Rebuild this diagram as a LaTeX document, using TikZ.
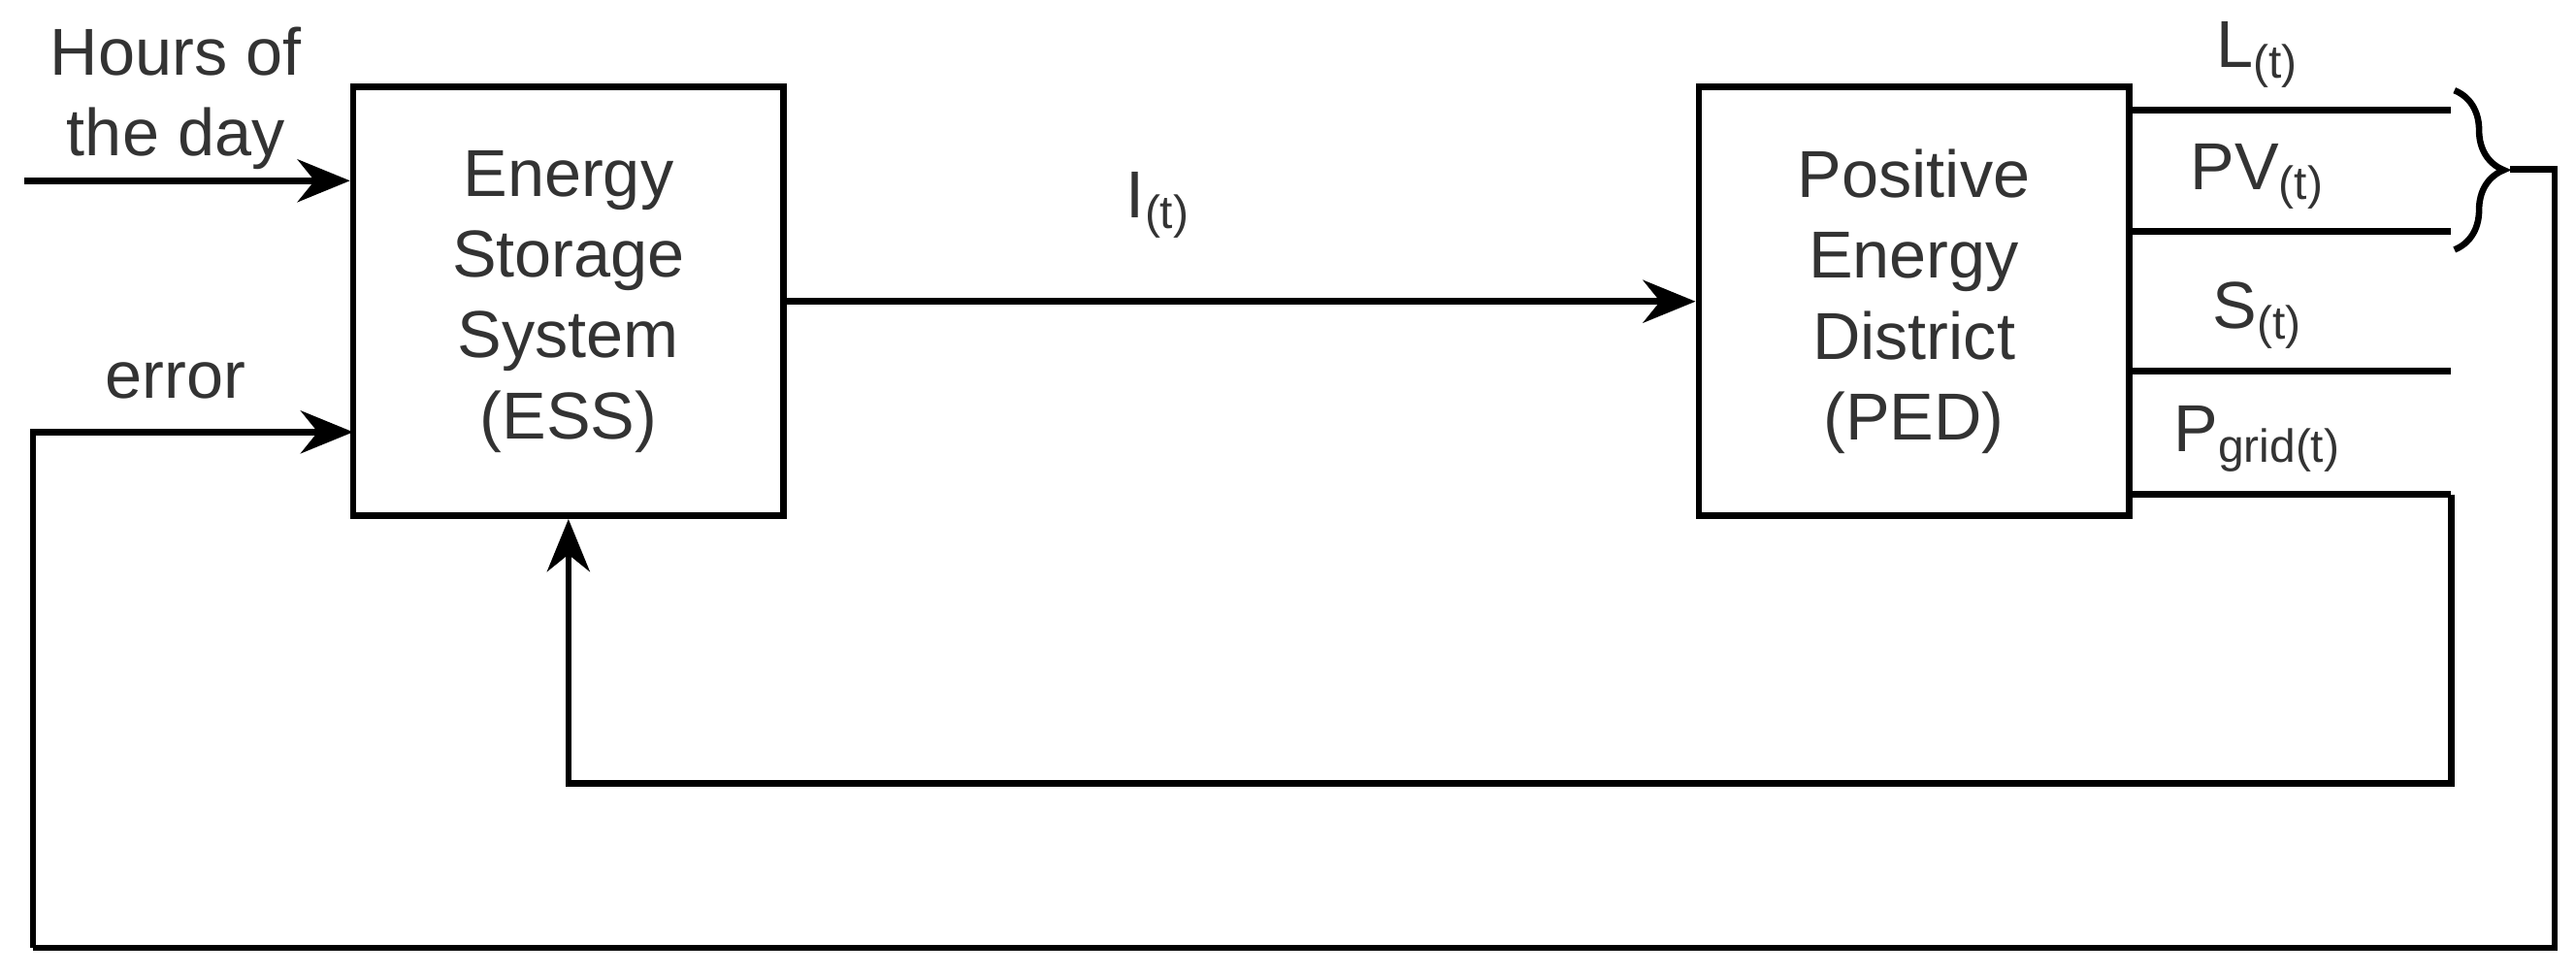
\documentclass[tikz,border=0pt]{standalone}
\usepackage{fontspec}
\setmainfont{Liberation Sans}
\usetikzlibrary{arrows.meta,decorations.pathreplacing}
\begin{document}
\begin{tikzpicture}[x=0.1mm,y=-0.1mm,
  box/.style={draw,line width=1.1pt,minimum width=26.2mm,minimum height=26.1mm,align=center,font=\fontsize{11.5}{14}\selectfont,inner sep=0pt,text=black!80},
  ln/.style={line width=1.1pt},
  arr/.style={ln,-{Stealth[length=3.2mm,width=2.6mm]}},
  lab/.style={font=\fontsize{11.5}{14}\selectfont,text=black!80}]
\useasboundingbox (0,0) rectangle (1568,593);
\node[box] (ess) at (346,183.5) {Energy\\Storage\\System\\(ESS)};
\node[box] (ped) at (1165,183.5) {Positive\\Energy\\District\\(PED)};
\draw[arr] (ess.east) -- (ped.west) node[lab,midway,above=2.5mm,xshift=-5mm] {I\textsubscript{(t)}};
\coordinate (h0) at (15,110);
\coordinate (e0) at (20,577);
\draw[arr] (h0) -- (h0 -| ess.west);
\node[lab,align=center] (hl) at (107,60) {Hours of\\the day};
\draw[arr] (e0) -- (20,263) -- (215,263);
\node[lab] (el) at (107,232) {error};
\coordinate (lend) at (1492,67);
\coordinate (pvend) at (1492,141);
\coordinate (send) at (1492,226);
\coordinate (gend) at (1492,301);
\draw[ln] (1297,67) -- (lend) node[lab,pos=0.5,above=0pt,xshift=-2mm] {L\textsubscript{(t)}};
\draw[ln] (1297,141) -- (pvend) node[lab,pos=0.5,above=0pt,xshift=-2mm] {PV\textsubscript{(t)}};
\draw[ln] (1297,226) -- (send) node[lab,pos=0.5,above=0pt,xshift=-2mm] {S\textsubscript{(t)}};
\draw[ln] (1297,301) -- (gend) node[lab,pos=0.5,above=0pt,xshift=-2mm] {P\textsubscript{grid(t)}};
\draw[arr] (gend) -- (1492,477) -- (346,477) -- (ess.south);
\draw[ln,decoration={brace,amplitude=3mm},decorate] (1494,55) -- (1494,152);
\coordinate (bt) at (1528,103);
\draw[ln] (bt) -- (1555,103) -- (1555,577) -- (e0);
\end{tikzpicture}
\end{document}
